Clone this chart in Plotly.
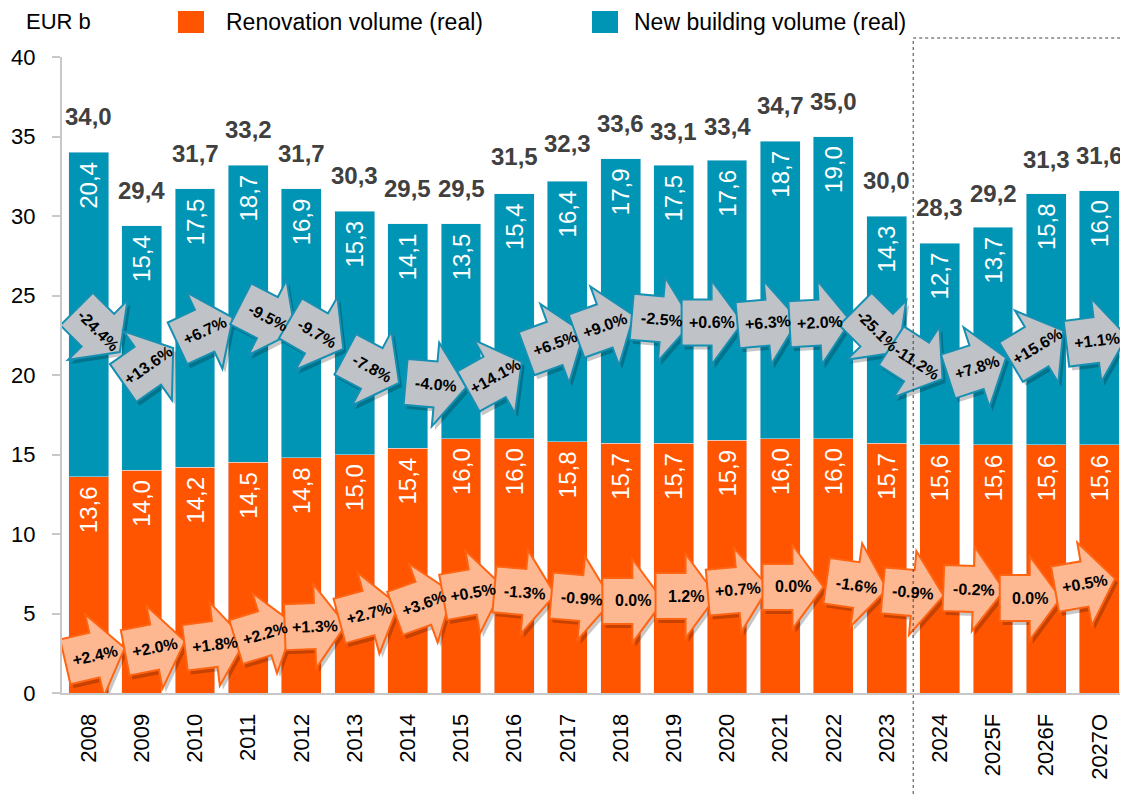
import math
import plotly.graph_objects as go

# ---------------- data ----------------
years = ["2008", "2009", "2010", "2011", "2012", "2013", "2014", "2015", "2016", "2017",
         "2018", "2019", "2020", "2021", "2022", "2023", "2024", "2025F", "2026F", "2027O"]
renovation = [13.6, 14.0, 14.2, 14.5, 14.8, 15.0, 15.4, 16.0, 16.0, 15.8,
              15.7, 15.7, 15.9, 16.0, 16.0, 15.7, 15.6, 15.6, 15.6, 15.6]
new_building = [20.4, 15.4, 17.5, 18.7, 16.9, 15.3, 14.1, 13.5, 15.4, 16.4,
                17.9, 17.5, 17.6, 18.7, 19.0, 14.3, 12.7, 13.7, 15.8, 16.0]
totals = [34.0, 29.4, 31.7, 33.2, 31.7, 30.3, 29.5, 29.5, 31.5, 32.3,
          33.6, 33.1, 33.4, 34.7, 35.0, 30.0, 28.3, 29.2, 31.3, 31.6]
new_change = ["-24.4%", "+13.6%", "+6.7%", "-9.5%", "-9.7%", "-7.8%", "-4.0%", "+14.1%", "+6.5%",
              "+9.0%", "-2.5%", "+0.6%", "+6.3%", "+2.0%", "-25.1%", "-11.2%", "+7.8%", "+15.6%", "+1.1%"]
reno_change = ["+2.4%", "+2.0%", "+1.8%", "+2.2%", "+1.3%", "+2.7%", "+3.6%", "+0.5%", "-1.3%",
               "-0.9%", "0.0%", "1.2%", "+0.7%", "0.0%", "-1.6%", "-0.9%", "-0.2%", "0.0%", "+0.5%"]

# ---------------- arrow placement (style: category units, value units, degrees clockwise) ----------------
top_arrow_x = [0.18, 1.12, 2.19, 3.37, 4.29, 5.33, 6.53, 7.64, 8.77, 9.71,
               10.78, 11.72, 12.77, 13.75, 14.82, 15.57, 16.70, 17.83, 18.95]
top_arrow_y = [22.8, 20.6, 22.8, 23.6, 22.6, 20.4, 19.4, 19.9, 22.0, 23.1,
               23.5, 23.3, 23.3, 23.3, 22.8, 20.8, 20.5, 21.8, 22.2]
top_arrow_angle = [45, -35, -25, 27, 30, 28, 5, -29, -20, -20,
                   5, 0, -5, -3, 45, 33, -18, -31, -7]
bot_arrow_x = [0.12, 1.25, 2.38, 3.32, 4.26, 5.27, 6.30, 7.23, 8.20, 9.27,
               10.23, 11.23, 12.21, 13.24, 14.44, 15.50, 16.64, 17.70, 18.73]
bot_arrow_y = [2.39, 2.89, 3.08, 3.77, 4.21, 5.03, 5.66, 6.35, 6.35, 5.97,
               5.79, 6.10, 6.48, 6.67, 6.79, 6.29, 6.54, 5.97, 6.86]
bot_arrow_angle = [-13, -11, -7, -17, -2, -15, -20, -10, 5, 5,
                   0, 0, -5, 0, 8, 5, 2, 0, -10]

# ---------------- styles ----------------
FONT = "Liberation Sans, Arial, sans-serif"
ORANGE = "#ff5500"
TEAL = "#0095b5"
PAGE_W, PAGE_H = 1128, 795
OFF = 8                      # default page body margin
W, H = PAGE_W - OFF, PAGE_H - OFF
ML, MR, MT, MB = 62 - OFF, 2, 57 - OFF, 102
PW, PH = W - ML - MR, H - MT - MB


def pxx(px):
    """page pixel x -> paper x"""
    return (px - OFF - ML) / PW


def pxy(py):
    """page pixel y -> paper y"""
    return (H - MB - (py - OFF)) / PH


idx = list(range(len(years)))

fig = go.Figure()
fig.add_trace(go.Bar(
    x=idx, y=renovation, name="Renovation volume (real)", marker_color=ORANGE,
    texttemplate="%{y:.1f}\u00a0", textposition="inside", insidetextanchor="end", textangle=-90,
    textfont=dict(family=FONT, size=24, color="white"), constraintext="none",
    showlegend=False))
fig.add_trace(go.Bar(
    x=idx, y=new_building, name="New building volume (real)", marker_color=TEAL,
    texttemplate="%{y:.1f}\u00a0", textposition="inside", insidetextanchor="end", textangle=-90,
    textfont=dict(family=FONT, size=24, color="white"), constraintext="none",
    showlegend=False))

shapes = []
annotations = []

# totals above bars
for i, t in enumerate(totals):
    annotations.append(dict(
        x=i, y=t, xref="x", yref="y", text=f"{t:.1f}".replace(".", ","), showarrow=False,
        yanchor="bottom", yshift=20,
        font=dict(family=FONT, size=24, color="#404040", weight="bold")))


def arrow_pts(angle, shift=(0.0, 0.0), body_len=30, head_len=31, body_h=23, head_h=42):
    pts = [(-body_len, -body_h), (0, -body_h), (0, -head_h), (head_len, 0),
           (0, head_h), (0, body_h), (-body_len, body_h)]
    c = (head_len - body_len) / 2.0
    a = math.radians(angle)
    out = []
    for x, y in pts:
        x -= c
        xr = x * math.cos(a) - y * math.sin(a) + shift[0]
        yr = x * math.sin(a) + y * math.cos(a) + shift[1]
        out.append((xr, -yr))
    return "M " + " L ".join(f"{x:.1f},{y:.1f}" for x, y in out) + " Z"


def add_arrow(x, y, angle, label, fill, line):
    shapes.append(dict(type="path", xref="x", yref="y", xsizemode="pixel", ysizemode="pixel",
                       xanchor=x, yanchor=y, path=arrow_pts(angle, shift=(3, 4)),
                       fillcolor="rgba(0,0,0,0.22)", line=dict(width=0)))
    shapes.append(dict(type="path", xref="x", yref="y", xsizemode="pixel", ysizemode="pixel",
                       xanchor=x, yanchor=y, path=arrow_pts(angle),
                       fillcolor=fill, line=dict(color=line, width=2)))
    annotations.append(dict(x=x, y=y, xref="x", yref="y", text=label, showarrow=False,
                            textangle=angle, xanchor="center", yanchor="middle",
                            font=dict(family=FONT, size=16, color="black", weight="bold")))


for x, y, a, lab in zip(top_arrow_x, top_arrow_y, top_arrow_angle, new_change):
    add_arrow(x, y, a, lab, "#bfc3c7", "#1590b2")
for x, y, a, lab in zip(bot_arrow_x, bot_arrow_y, bot_arrow_angle, reno_change):
    add_arrow(x, y, a, lab, "#fdb891", "#ff6412")

# dotted forecast frame between 2023 and 2024
split = (15.5 + 0.5) / len(years)
shapes.append(dict(type="line", xref="paper", yref="paper", x0=split, x1=split,
                   y0=pxy(PAGE_H + 5), y1=pxy(38), line=dict(color="#404040", width=1, dash="dot")))
shapes.append(dict(type="line", xref="paper", yref="paper", x0=split, x1=pxx(PAGE_W + 5),
                   y0=pxy(38), y1=pxy(38), line=dict(color="#404040", width=1, dash="dot")))

# x axis baseline extends slightly left of the y axis, as in the reference
shapes.append(dict(type="line", xref="paper", yref="paper", x0=pxx(53), x1=0,
                   y0=0, y1=0, line=dict(color="#c8c8c8", width=2)))

# manual legend
LEG_Y = 22
annotations.append(dict(x=pxx(24), y=pxy(LEG_Y), xref="paper", yref="paper", text="EUR b",
                        showarrow=False, xanchor="left", yanchor="middle",
                        font=dict(family=FONT, size=22, color="black")))
shapes.append(dict(type="rect", xref="paper", yref="paper", x0=pxx(178), x1=pxx(204),
                   y0=pxy(LEG_Y + 11), y1=pxy(LEG_Y - 11), fillcolor=ORANGE, line=dict(width=0)))
annotations.append(dict(x=pxx(224), y=pxy(LEG_Y), xref="paper", yref="paper",
                        text="Renovation volume (real)", showarrow=False, xanchor="left",
                        yanchor="middle", font=dict(family=FONT, size=23, color="black")))
shapes.append(dict(type="rect", xref="paper", yref="paper", x0=pxx(592), x1=pxx(618),
                   y0=pxy(LEG_Y + 11), y1=pxy(LEG_Y - 11), fillcolor=TEAL, line=dict(width=0)))
annotations.append(dict(x=pxx(632), y=pxy(LEG_Y), xref="paper", yref="paper",
                        text="New building volume (real)", showarrow=False, xanchor="left",
                        yanchor="middle", font=dict(family=FONT, size=23, color="black")))

fig.update_layout(
    width=W, height=H, margin=dict(l=ML, r=MR, t=MT, b=MB, autoexpand=False),
    barmode="stack", bargap=0.25, separators=", ",
    plot_bgcolor="white", paper_bgcolor="white",
    shapes=shapes, annotations=annotations, showlegend=False,
    font=dict(family=FONT, color="black"),
)
fig.update_xaxes(range=[-0.5, len(years) - 0.5], tickmode="array", tickvals=idx, ticktext=years,
                 tickangle=-90, tickfont=dict(family=FONT, size=22, color="black"),
                 showline=True, linecolor="#c8c8c8", linewidth=2, ticks="", showgrid=False,
                 zeroline=False, ticklabelstandoff=10, automargin=False)
fig.update_yaxes(range=[0, 40], dtick=5, tickfont=dict(family=FONT, size=22, color="black"),
                 showline=True, linecolor="#c8c8c8", linewidth=2, ticks="outside", ticklen=8,
                 tickcolor="#c8c8c8", tickwidth=2, showgrid=False, zeroline=False,
                 ticklabelstandoff=12, automargin=False)

fig.write_html("out.html")
